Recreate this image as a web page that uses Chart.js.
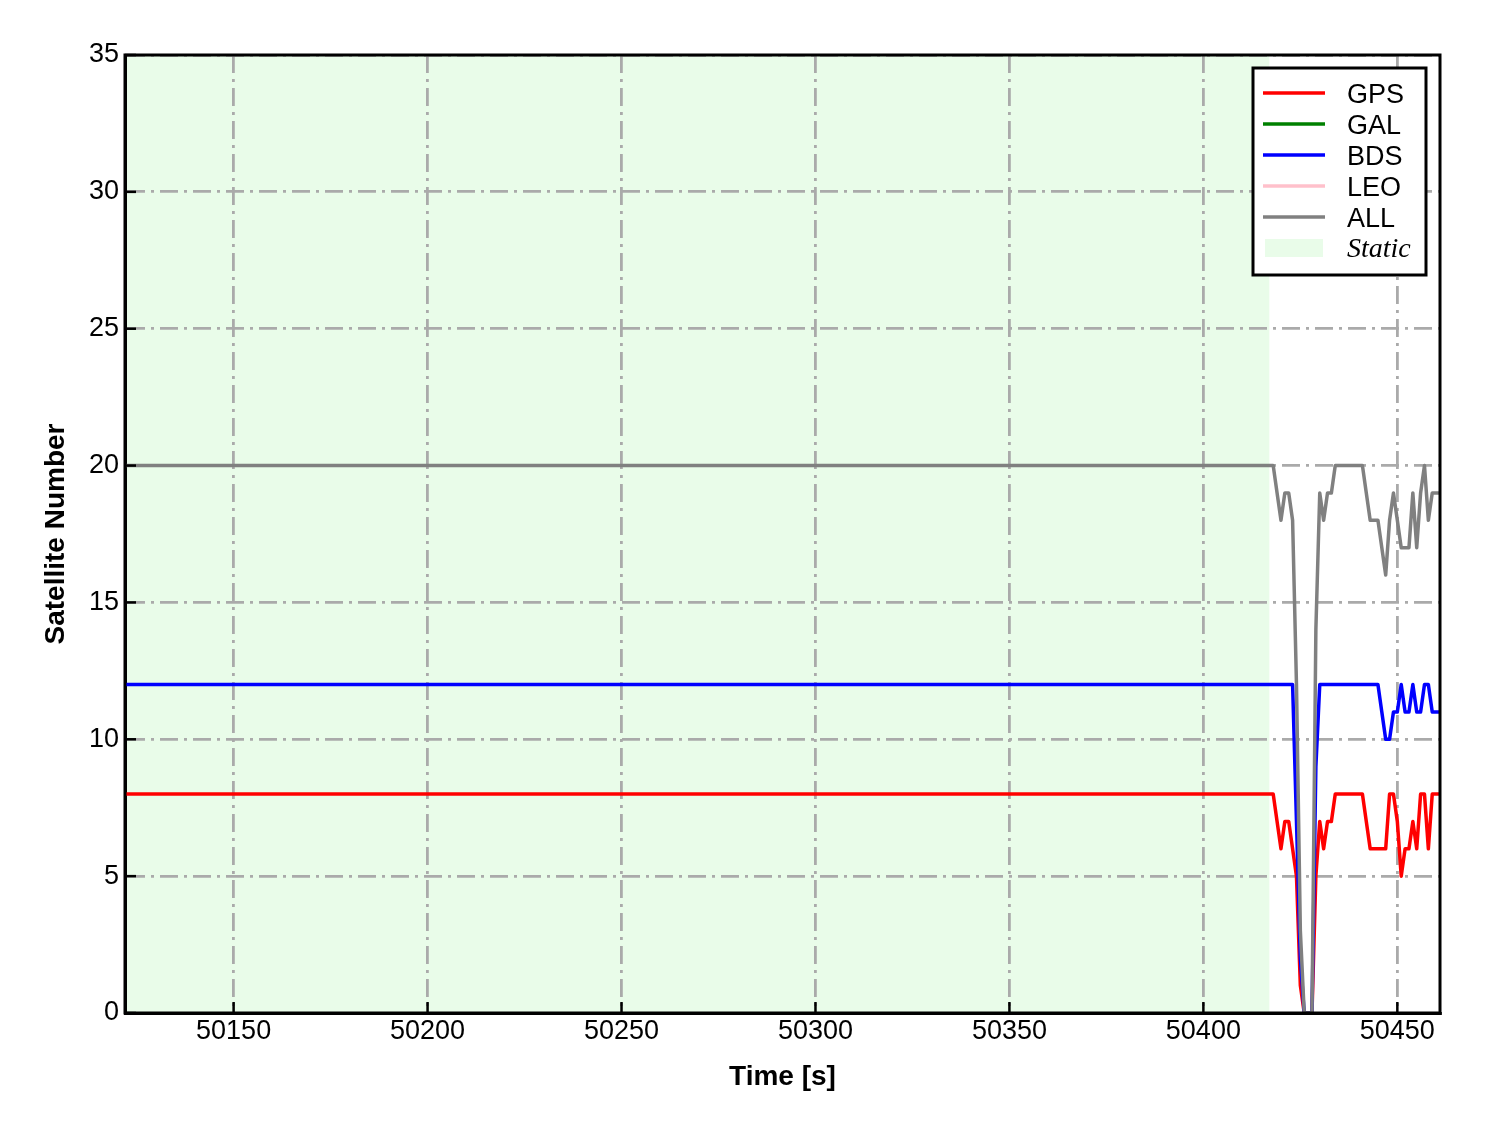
<!DOCTYPE html>
<html>
<head>
<meta charset="utf-8">
<title>Satellite Number</title>
<script src="https://cdn.jsdelivr.net/npm/chart.js@4.4.1/dist/chart.umd.min.js"></script>
<style>
  html, body { margin: 0; padding: 0; background: #ffffff; }
  canvas { display: block; }
</style>
</head>
<body>
<canvas id="sat-chart" width="1488" height="1133"></canvas>
<script>
// epochs [s] - flat from the start until the static period ends
const times = [50122,
    50417, 50418, 50419, 50420, 50421, 50422, 50423, 50424, 50425, 50426,
    50427, 50428, 50429, 50430, 50431, 50432, 50433, 50434, 50435, 50436,
    50437, 50438, 50439, 50440, 50441, 50442, 50443, 50444, 50445, 50446,
    50447, 50448, 50449, 50450, 50451, 50452, 50453, 50454, 50455, 50456,
    50457, 50458, 50459, 50460, 50461];

const gpsCount = [8,
    8, 8, 7, 6, 7, 7, 6, 5, 1, 0,
    0, 0, 5, 7, 6, 7, 7, 8, 8, 8,
    8, 8, 8, 8, 8, 7, 6, 6, 6, 6,
    6, 8, 8, 7, 5, 6, 6, 7, 6, 8,
    8, 6, 8, 8, 8];

const galCount = [];

const bdsCount = [12,
    12, 12, 12, 12, 12, 12, 12, 7, 2, 0,
    0, 0, 9, 12, 12, 12, 12, 12, 12, 12,
    12, 12, 12, 12, 12, 12, 12, 12, 12, 11,
    10, 10, 11, 11, 12, 11, 11, 12, 11, 11,
    12, 12, 11, 11, 11];

const leoCount = [];

const allCount = [20,
    20, 20, 19, 18, 19, 19, 18, 12, 3, 0,
    0, 0, 14, 19, 18, 19, 19, 20, 20, 20,
    20, 20, 20, 20, 20, 19, 18, 18, 18, 17,
    16, 18, 19, 18, 17, 17, 17, 19, 17, 19,
    20, 18, 19, 19, 19];

const staticSpan = [50122, 50417];
const xTicks = [50150, 50200, 50250, 50300, 50350, 50400, 50450];
const yTicks = [0, 5, 10, 15, 20, 25, 30, 35];

const seriesNames = ['GPS', 'GAL', 'BDS', 'LEO', 'ALL'];
const seriesColors = ['#ff0000', '#008000', '#0000ff', '#ffc0cb', '#808080'];
const staticColor = '#e9fce9';

const FONT = "'Liberation Sans', Arial, sans-serif";
const gridDash = [18, 6, 3, 6];

function toPoints(vals) {
    return vals.map((v, i) => ({ x: times[i], y: v }));
}

// light green band for the static part, under the grid
const staticBand = {
    id: 'staticBand',
    beforeDraw(chart) {
        const { ctx, chartArea, scales } = chart;
        const x1 = scales.x.getPixelForValue(staticSpan[0]);
        const x2 = scales.x.getPixelForValue(staticSpan[1]);
        ctx.save();
        ctx.fillStyle = staticColor;
        ctx.fillRect(x1, chartArea.top, x2 - x1, chartArea.bottom - chartArea.top);
        ctx.restore();
    }
};

// frame on all four sides + inward ticks on bottom/left
const frameTicks = {
    id: 'frameTicks',
    afterDatasetsDraw(chart) {
        const { ctx, chartArea: ca, scales } = chart;
        ctx.save();
        ctx.strokeStyle = '#000';
        ctx.lineWidth = 2.5;
        xTicks.forEach(v => {
            const px = scales.x.getPixelForValue(v);
            ctx.beginPath();
            ctx.moveTo(px, ca.bottom);
            ctx.lineTo(px, ca.bottom - 11);
            ctx.stroke();
        });
        yTicks.forEach(v => {
            const py = scales.y.getPixelForValue(v);
            ctx.beginPath();
            ctx.moveTo(ca.left, py);
            ctx.lineTo(ca.left + 11, py);
            ctx.stroke();
        });
        ctx.lineWidth = 3;
        ctx.strokeRect(ca.left, ca.top, ca.right - ca.left, ca.bottom - ca.top);
        ctx.restore();
    }
};

// boxed legend in the top right corner
const boxLegend = {
    id: 'boxLegend',
    afterDraw(chart) {
        const { ctx, chartArea: ca } = chart;
        const bx = ca.right - 187, by = ca.top + 13, bw = 173, bh = 207;
        ctx.save();
        ctx.fillStyle = '#fff';
        ctx.fillRect(bx, by, bw, bh);
        ctx.strokeStyle = '#000';
        ctx.lineWidth = 3;
        ctx.strokeRect(bx, by, bw, bh);

        ctx.textBaseline = 'middle';
        ctx.textAlign = 'left';
        seriesNames.forEach((name, i) => {
            const ry = by + 25 + i * 31;
            ctx.strokeStyle = seriesColors[i];
            ctx.lineWidth = 3.5;
            ctx.beginPath();
            ctx.moveTo(bx + 10, ry);
            ctx.lineTo(bx + 72, ry);
            ctx.stroke();
            ctx.fillStyle = '#000';
            ctx.font = `27px ${FONT}`;
            ctx.fillText(name, bx + 94, ry + 3);
        });
        const sy = by + 25 + 5 * 31;
        ctx.fillStyle = staticColor;
        ctx.fillRect(bx + 12, sy - 9, 58, 18);
        ctx.fillStyle = '#000';
        ctx.font = "italic 28px 'Liberation Serif', 'Times New Roman', serif";
        ctx.fillText('Static', bx + 94, sy + 2);
        ctx.restore();
    }
};

const datasets = [gpsCount, galCount, bdsCount, leoCount, allCount].map((vals, i) => ({
    label: seriesNames[i],
    data: toPoints(vals),
    borderColor: seriesColors[i],
    backgroundColor: seriesColors[i],
    borderWidth: 3.5,
    borderJoinStyle: 'round',
    pointRadius: 0,
    tension: 0,
    order: 4 - i // later series drawn on top, like the original
}));

const gridOpts = { color: '#aaaaaa', lineWidth: 2.8, drawTicks: false };

new Chart(document.getElementById('sat-chart').getContext('2d'), {
    type: 'line',
    data: { datasets },
    plugins: [staticBand, frameTicks, boxLegend],
    options: {
        responsive: false,
        animation: false,
        layout: { padding: { top: 55, right: 48, left: 0, bottom: 0 } },
        plugins: {
            legend: { display: false },
            tooltip: { enabled: false }
        },
        scales: {
            x: {
                type: 'linear',
                min: 50122,
                max: 50461,
                afterBuildTicks: s => { s.ticks = xTicks.map(v => ({ value: v })); },
                afterFit: s => { s.height = 120; },
                ticks: {
                    color: '#000',
                    font: { family: FONT, size: 27 },
                    padding: 2,
                    maxRotation: 0,
                    callback: v => String(v)
                },
                grid: gridOpts,
                border: { display: true, color: '#000', width: 3, dash: gridDash },
                title: {
                    display: true,
                    text: 'Time [s]',
                    color: '#000',
                    font: { family: FONT, size: 28, weight: 'bold' },
                    padding: { top: 0, bottom: 39 }
                }
            },
            y: {
                type: 'linear',
                min: 0,
                max: 35,
                afterBuildTicks: s => { s.ticks = yTicks.map(v => ({ value: v })); },
                afterFit: s => { s.width = 125; },
                ticks: {
                    color: '#000',
                    font: { family: FONT, size: 27 },
                    padding: 6,
                    callback: v => String(v)
                },
                grid: gridOpts,
                border: { display: true, color: '#000', width: 3, dash: gridDash },
                title: {
                    display: true,
                    text: 'Satellite Number',
                    color: '#000',
                    font: { family: FONT, size: 28, weight: 'bold' },
                    padding: { top: 39, bottom: 0 }
                }
            }
        }
    }
});
</script>
</body>
</html>
